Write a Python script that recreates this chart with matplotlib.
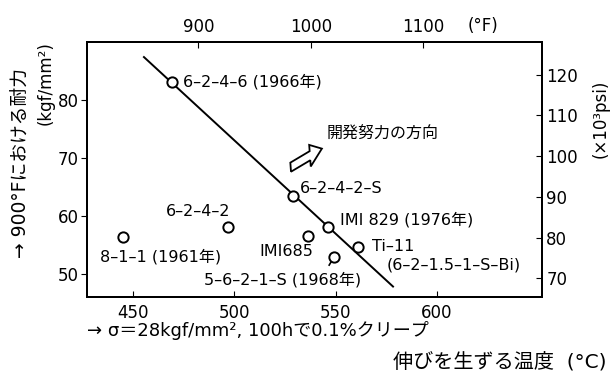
import matplotlib
matplotlib.use("Agg")
import matplotlib.pyplot as plt
from matplotlib.patches import FancyArrow

plt.rcParams['font.family'] = ['DejaVu Sans', 'Noto Sans CJK JP']

# alloys: temperature (C) for 0.1% creep, 900F proof stress (kgf/mm2)
alloys = ["6–2–4–6", "8–1–1", "6–2–4–2", "6–2–4–2–S", "IMI685",
          "IMI829", "Ti–11", "5–6–2–1–S"]
temp_c = [469.2, 445.0, 496.9, 529.0, 536.3, 546.4, 561.0, 549.2]
stress = [83.1, 56.3, 58.1, 63.5, 56.6, 58.1, 54.6, 52.9]

labels = ["6–2–4–6 (1966年)", "8–1–1 (1961年)", "6–2–4–2", "6–2–4–2–S",
          "IMI685", "IMI 829 (1976年)", "Ti–11\n(6–2–1.5–1–S–Bi)",
          "5–6–2–1–S (1968年)"]
label_xy = [(474.5, 83.1), (433.5, 53.0), (482.0, 60.8), (532.5, 64.8),
            (512.5, 53.9), (552.0, 59.4), (568.0, 54.7), (485.0, 49.0)]
label_ha = ["left", "left", "center", "left", "left", "left", "left", "left"]

# trend line ends
trend_x = [455.4, 578.3]
trend_y = [87.4, 47.8]

xticks = [450, 500, 550, 600]
yticks = [50, 60, 70, 80]
fticks = [900, 1000, 1100]
psiticks = [70, 80, 90, 100, 110, 120]

xlim = (427.3, 651.8)
ylim = (46.0, 90.0)
KSI = 1.4223

fig = plt.figure(figsize=(6.1, 3.71), dpi=100)
ax = fig.add_axes([0.1426, 0.1995, 0.7459, 0.6873])

ax.plot(trend_x, trend_y, color='black', lw=1.4, zorder=2)
ax.scatter(temp_c, stress, s=55, facecolors='white', edgecolors='black',
           linewidths=1.4, zorder=3)
# leader for 5-6-2-1-S
ax.plot([549.2, 546.8], [52.9, 51.5], color='black', lw=1.2, zorder=2)

for txt, (lx, ly), ha in zip(labels, label_xy, label_ha):
    if "\n" in txt:
        first, second = txt.split("\n")
        ax.text(lx, ly, first, fontsize=11.5, ha=ha, va='center')
        ax.text(lx + 7, ly - 3.2, second, fontsize=11.5, ha=ha, va='center')
    else:
        ax.text(lx, ly, txt, fontsize=11.5, ha=ha, va='center')

# direction of development arrow (hollow)
arr = FancyArrow(527.8, 68.4, 15.4, 3.2, width=1.6, head_width=3.8,
                 head_length=6.0, length_includes_head=True,
                 facecolor='white', edgecolor='black', lw=1.3, zorder=3)
ax.add_patch(arr)
ax.text(545.5, 74.3, "開発努力の方向", fontsize=11.5, ha='left', va='center')

ax.set_xlim(*xlim)
ax.set_ylim(*ylim)
ax.set_xticks(xticks)
ax.set_yticks(yticks)
ax.tick_params(axis='x', direction='in', length=4, labelsize=12, pad=5)
ax.tick_params(axis='y', direction='out', length=4, labelsize=12, pad=2)
for sp in ax.spines.values():
    sp.set_linewidth(1.4)

axf = ax.twiny()
axf.set_xlim(xlim[0] * 9 / 5 + 32, xlim[1] * 9 / 5 + 32)
axf.set_xticks(fticks)
axf.tick_params(axis='x', direction='in', length=4, labelsize=12, pad=4)
axf.text(0.87, 1.062, "(°F)", transform=ax.transAxes, fontsize=12,
         ha='center', va='center')

axp = ax.twinx()
axp.set_ylim(ylim[0] * KSI, ylim[1] * KSI)
axp.set_yticks(psiticks)
axp.tick_params(axis='y', direction='in', length=4, labelsize=12, pad=3)
for a in (axf, axp):
    for sp in a.spines.values():
        sp.set_linewidth(1.4)

# axis titles
fig.text(0.033, 0.56, "→ 900°Fにおける耐力", rotation=90, fontsize=13.5,
         ha='center', va='center')
fig.text(0.075, 0.777, "(kgf/mm²)", rotation=90, fontsize=12,
         ha='center', va='center')
fig.text(0.985, 0.68, "(×10³psi)", rotation=90, fontsize=12,
         ha='center', va='center')
fig.text(0.142, 0.108, "→ σ＝28kgf/mm², 100hで0.1%クリープ", fontsize=13,
         ha='left', va='center')
fig.text(0.995, 0.025, "伸びを生ずる温度  (°C)", fontsize=14.5,
         ha='right', va='center')

fig.savefig("out.png", dpi=100)
